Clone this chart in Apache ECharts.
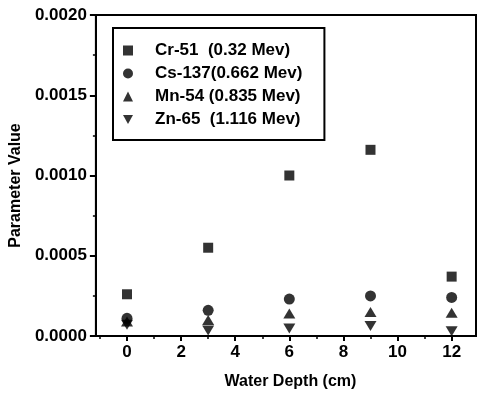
<!DOCTYPE html>
<html>
<head>
<meta charset="utf-8">
<script src="https://cdn.jsdelivr.net/npm/echarts@6/dist/echarts.min.js"></script>
<style>
  html, body { margin: 0; padding: 0; background: #fff; }
  #chart { width: 477px; height: 395px; }
</style>
</head>
<body>
<div id="chart"></div>
<script>
const depths = [0, 3, 6, 9, 12];
const seriesNames = ['Cr-51  (0.32 Mev)', 'Cs-137(0.662 Mev)', 'Mn-54 (0.835 Mev)', 'Zn-65  (1.116 Mev)'];
const cr51 = [0.00026, 0.00055, 0.00100, 0.00116, 0.00037];
const cs137 = [0.00011, 0.00016, 0.00023, 0.00025, 0.00024];
const mn54 = [0.00009, 0.00010, 0.00014, 0.00015, 0.000145];
const zn65 = [0.00007, 0.000035, 0.000046, 0.000062, 0.00003];
const xTicks = [0, 2, 4, 6, 8, 10, 12];
const xMinorTicks = [-1, 1, 3, 5, 7, 9, 11];
const yTicks = [0, 0.0005, 0.0010, 0.0015, 0.0020];

const FONT = 'Liberation Sans, Arial, sans-serif';
const downTri = 'path://M0,0L10,0L5,9Z';
const symbols = ['rect', 'circle', 'triangle', downTri];
const sizes = [[10, 10], 11, [12, 10], [12, 10]];
const values = [cr51, cs137, mn54, zn65];

const chart = echarts.init(document.getElementById('chart'), null, { renderer: 'canvas' });

const txt = { fontFamily: FONT, fontWeight: 'bold', fontSize: 16, color: '#000' };
const tickTxt = Object.assign({}, txt, { fontSize: 17 });

chart.setOption({
  animation: false,
  backgroundColor: '#fff',
  grid: {
    left: 91, top: 15, right: 1, bottom: 58,
    show: true, borderColor: '#000', borderWidth: 2, backgroundColor: 'transparent'
  },
  legend: {
    orient: 'vertical',
    left: 113, top: 28,
    padding: [14, 22, 12, 10],
    borderColor: '#000', borderWidth: 2,
    itemWidth: 10, itemHeight: 10, itemGap: 6,
    data: seriesNames.map((n, i) => ({ name: n, icon: symbols[i] })),
    textStyle: Object.assign({}, txt, { fontSize: 17, padding: [0, 0, 0, 17] })
  },
  xAxis: [{
    type: 'value',
    min: -1.15, max: 12.9,
    name: 'Water Depth (cm)',
    nameLocation: 'middle', nameGap: 38,
    nameTextStyle: Object.assign({}, txt, { padding: [0, 0, 0, 9] }),
    axisLine: { show: true, onZero: false, lineStyle: { color: '#000', width: 2 } },
    axisTick: { show: true, length: 5, customValues: xTicks, lineStyle: { color: '#000', width: 2 } },
    axisLabel: Object.assign({}, tickTxt, { margin: 8, customValues: xTicks }),
    splitLine: { show: false }
  }, {
    type: 'value',
    position: 'bottom',
    min: -1.15, max: 12.9,
    axisLine: { show: false },
    axisTick: { show: true, length: 3, customValues: xMinorTicks, lineStyle: { color: '#000', width: 1.5 } },
    axisLabel: { show: false },
    splitLine: { show: false }
  }],
  yAxis: {
    type: 'value',
    min: 0, max: 0.002, interval: 0.0005,
    name: 'Parameter Value',
    nameLocation: 'middle', nameGap: 71,
    nameTextStyle: Object.assign({}, txt, { padding: [0, 20, 0, 0] }),
    axisLine: { show: true, onZero: false, lineStyle: { color: '#000', width: 2 } },
    axisTick: { show: true, length: 6, customValues: yTicks, lineStyle: { color: '#000', width: 2 } },
    minorTick: { show: true, splitNumber: 2, length: 3, lineStyle: { color: '#000', width: 1.5 } },
    axisLabel: Object.assign({}, tickTxt, { margin: 9, customValues: yTicks, formatter: v => v.toFixed(4) }),
    splitLine: { show: false }
  },
  series: seriesNames.map((n, i) => ({
    name: n,
    type: 'scatter',
    symbol: symbols[i],
    symbolSize: sizes[i],
    itemStyle: { color: '#000' },
    data: depths.map((d, j) => [d, values[i][j]])
  }))
});
</script>
</body>
</html>
